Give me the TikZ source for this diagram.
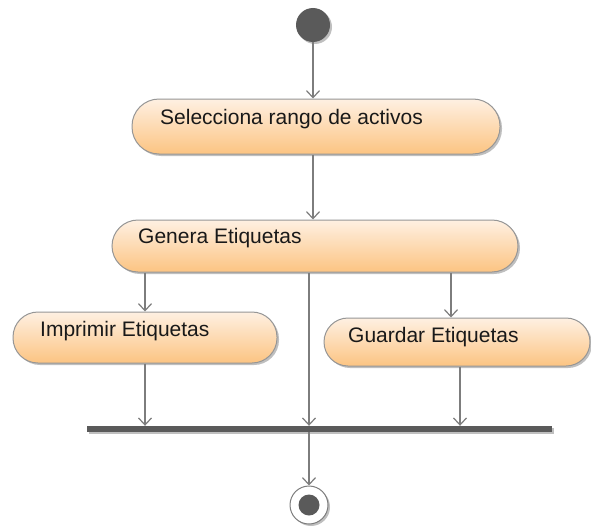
\documentclass[tikz,border=0pt]{standalone}
\usepackage{fontspec}
\setmainfont{Liberation Sans}
\usetikzlibrary{arrows.meta,shadows}
\definecolor{linegray}{RGB}{125,125,125}
\definecolor{boxtop}{RGB}{254,240,226}
\definecolor{boxbot}{RGB}{252,196,130}
\definecolor{boxline}{RGB}{150,150,150}
\definecolor{darkfill}{RGB}{90,90,90}
\definecolor{txtcol}{RGB}{25,25,25}
\begin{document}
\begin{tikzpicture}[x=1pt,y=-1pt,
  shad/.style={drop shadow={shadow xshift=2pt,shadow yshift=-2pt,opacity=0.25,fill=black}},
  action/.style={draw=boxline,line width=1pt,top color=boxtop,bottom color=boxbot,inner sep=0pt,shad},
  txt/.style={anchor=base west,inner sep=0pt,text=txtcol,font=\fontsize{21}{25}\selectfont},
  arr/.style={draw=linegray,line width=1.2pt,-{Straight Barb[length=7pt,width=13pt,line width=1.2pt]}}]
\fill[white] (0,0) rectangle (591,527);
\useasboundingbox (0,0) rectangle (591,527);
% nodes
\node[circle,fill=darkfill,minimum size=34pt,inner sep=0pt,shad] (start) at (313,25) {};
\node[action,minimum width=368pt,minimum height=55pt,rounded corners=27pt] (b1) at (316,126.5) {};
\node[txt] (t1) at (160,124) {Selecciona rango de activos};
\node[action,minimum width=406pt,minimum height=52pt,rounded corners=26pt] (b2) at (315,246) {};
\node[txt] (t2) at (138,243) {Genera Etiquetas};
\node[action,minimum width=264pt,minimum height=51pt,rounded corners=25pt] (b3) at (145,337.5) {};
\node[txt] (t3) at (40,336) {Imprimir Etiquetas};
\node[action,minimum width=266pt,minimum height=48pt,rounded corners=24pt] (b4) at (457,342) {};
\node[txt] (t4) at (348,342) {Guardar Etiquetas};
\node[fill=darkfill,minimum width=465pt,minimum height=6pt,inner sep=0pt,shad] (fork) at (319.5,429) {};
\node[circle,draw=linegray,fill=white,line width=1pt,minimum size=38pt,inner sep=0pt,shad] (end) at (309,505) {};
\node[circle,fill=darkfill,minimum size=21pt,inner sep=0pt] (endin) at (end.center) {};
\coordinate (gin) at (451,0);
\coordinate (gout) at (460,0);
% connectors
\draw[arr] (start.south) -- (start.south |- b1.north);
\draw[arr] (b1.south -| start) -- (b2.north -| start);
\draw[arr] (b2.south -| b3.north) -- (b3.north);
\draw[arr] (b2.south -| end.north) -- (fork.north -| end.north);
\draw[arr] (b2.south -| gin) -- (b4.north -| gin);
\draw[arr] (b3.south) -- (fork.north -| b3.south);
\draw[arr] (b4.south -| gout) -- (fork.north -| gout);
\draw[arr] (fork.south -| end.north) -- (end.north);
\end{tikzpicture}
\end{document}
